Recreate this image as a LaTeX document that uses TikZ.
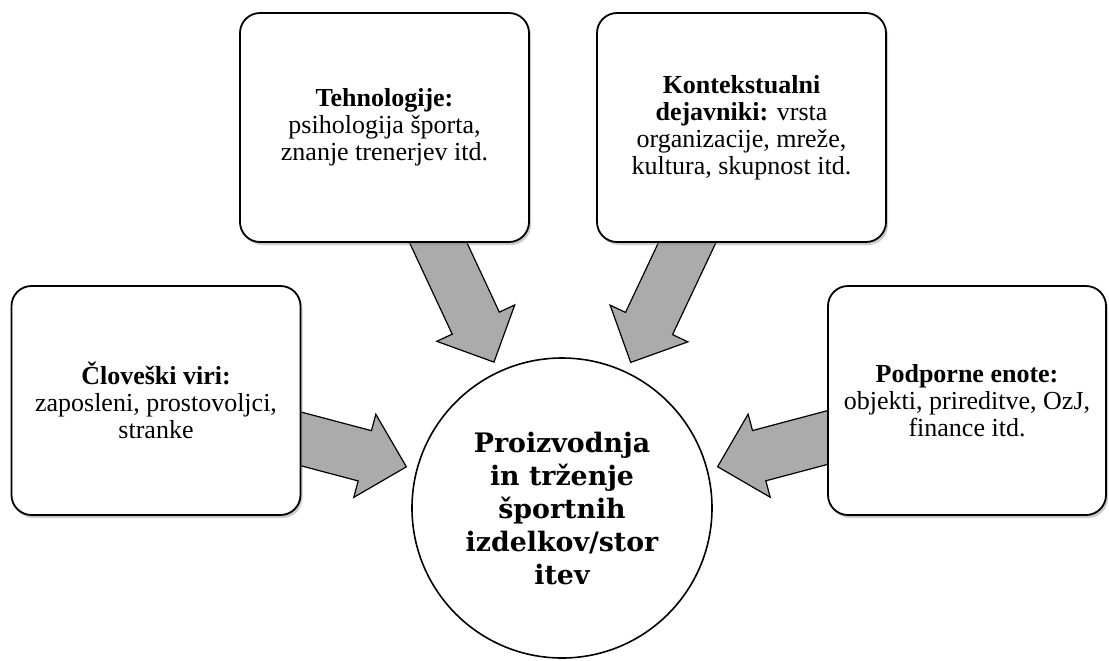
\documentclass[tikz,border=0pt]{standalone}
\usepackage{fontspec}
\setmainfont{Liberation Serif}
\newfontfamily\hubfont{DejaVu Serif}
\usetikzlibrary{calc,shadows,backgrounds}

\tikzset{
    factor/.style={draw, line width=0.9pt, rounded corners=10pt, fill=white,
        minimum width=144.5pt, minimum height=114.5pt, align=center,
        font=\fontsize{13}{13.5}\selectfont,
        drop shadow={shadow xshift=1pt, shadow yshift=-1.5pt, opacity=0.4}},
    hub/.style={draw, circle, line width=0.8pt, fill=white, minimum size=150pt,
        inner sep=0pt, align=center, font=\hubfont\bfseries\fontsize{13.4}{16.5}\selectfont},
    fatarrow/.style={fill=black!33, draw=black, line width=0.6pt, line join=miter}
}

\newcommand{\blockarrow}[2]{%
    \coordinate (#1-tip) at ($(#2.center)!80.5pt!(#1.center)$);
    \coordinate (#1-base) at ($(#1-tip)!21.5pt!(#1.center)$);
    \draw[fatarrow] ($(#1.center)!13pt!90:(#1-tip)$) -- ($(#1-base)!13pt!90:(#1-tip)$)
        -- ($(#1-base)!21.5pt!90:(#1-tip)$) -- (#1-tip)
        -- ($(#1-base)!21.5pt!-90:(#1-tip)$) -- ($(#1-base)!13pt!-90:(#1-tip)$)
        -- ($(#1.center)!13pt!-90:(#1-tip)$) -- cycle;
}

\begin{document}
\begin{tikzpicture}[x=0.5pt, y=-0.5pt]
    \useasboundingbox (0, 0) rectangle (1109, 660);
    \node[hub] (hub) at (562, 508) {Proizvodnja\\in trženje\\športnih\\izdelkov/stor\\itev};
    \node[factor] (human) at (156, 400.5) {\textbf{Človeški viri:}\\zaposleni, prostovoljci,\\stranke};
    \node[factor] (tech) at (384.5, 127.5) {\textbf{Tehnologije:}\\psihologija športa,\\znanje trenerjev itd.};
    \node[factor] (context) at (741.5, 127.5) {\textbf{Kontekstualni}\\\textbf{dejavniki:} vrsta\\organizacije, mreže,\\kultura, skupnost itd.};
    \node[factor, minimum width=139pt] (support) at (967, 400.5) {\textbf{Podporne enote:}\\objekti, prireditve, OzJ,\\finance itd.};
    \begin{scope}[on background layer]
        \blockarrow{human}{hub}
        \blockarrow{tech}{hub}
        \blockarrow{context}{hub}
        \blockarrow{support}{hub}
    \end{scope}
\end{tikzpicture}
\end{document}
